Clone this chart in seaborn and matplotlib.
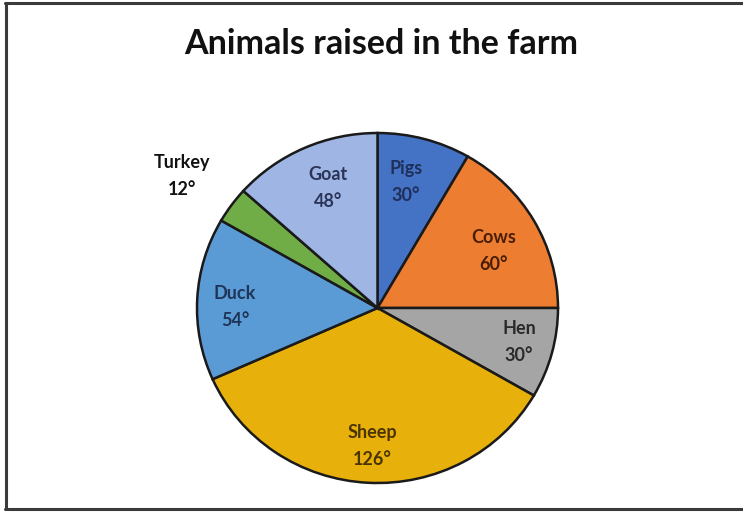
import matplotlib
matplotlib.use("Agg")
import matplotlib.pyplot as plt
import seaborn as sns
from matplotlib.lines import Line2D

sns.set_theme(style="white")
plt.rcParams['font.family'] = ['Lato', 'DejaVu Sans']

animals = ["Pigs", "Cows", "Hen", "Sheep", "Duck", "Turkey", "Goat"]
degrees = [30, 60, 30, 126, 54, 12, 48]
colors = ["#4472C4", "#ED7D31", "#A5A5A5", "#E8B00A", "#5B9BD5", "#70AD47", "#9FB5E3"]
text_colors = ["#1F2F5A", "#4A1E05", "#2A2A2A", "#4A3500", "#1F3558", "#111111", "#2A3558"]
title = "Animals raised in the farm"

W, H = 743, 512
fig = plt.figure(figsize=(W / 100, H / 100), dpi=100)
fig.patch.set_facecolor("white")

# pie box in pixels
left, right, top, bottom = 197, 558, 133, 483
ax = fig.add_axes([left / W, (H - bottom) / H, (right - left) / W, (bottom - top) / H])
wedges, _ = ax.pie(degrees, colors=colors, startangle=90, counterclock=False,
                   radius=1.0, wedgeprops=dict(edgecolor="#1a1a1a", linewidth=1.8))
ax.set_xlim(-1.0, 1.0)
ax.set_ylim(-1.0, 1.0)
ax.set_aspect("auto")
ax.axis("off")

# label positions in pixel coordinates -> convert to data coords
label_px = {
    "Pigs": (406, 182), "Cows": (494, 251), "Hen": (519, 342),
    "Sheep": (372, 446), "Duck": (235, 307), "Turkey": (182, 176), "Goat": (328, 188),
}
cx, cy = (left + right) / 2, (top + bottom) / 2
rx, ry = (right - left) / 2, (bottom - top) / 2
for name, deg, tc in zip(animals, degrees, text_colors):
    px, py = label_px[name]
    x = (px - cx) / rx
    y = (cy - py) / ry
    ax.text(x, y, f"{name}\n{deg}°", ha="center", va="center", fontsize=13,
            fontweight="bold", color=tc, linespacing=1.65, clip_on=False)

fig.text(381 / W, 1 - 44 / H, title, ha="center", va="center", fontsize=24.5,
         fontweight="bold", color="#111111")

# frame lines
for (x0, y0, x1, y1) in [(5, 2.5, W, 2.5), (5.5, 2.5, 5.5, 509), (5, 509, W, 509)]:
    fig.add_artist(Line2D([x0 / W, x1 / W], [1 - y0 / H, 1 - y1 / H],
                          transform=fig.transFigure, color="#3a3a3a", linewidth=2.2))

fig.savefig("out.png", dpi=100, facecolor="white")
